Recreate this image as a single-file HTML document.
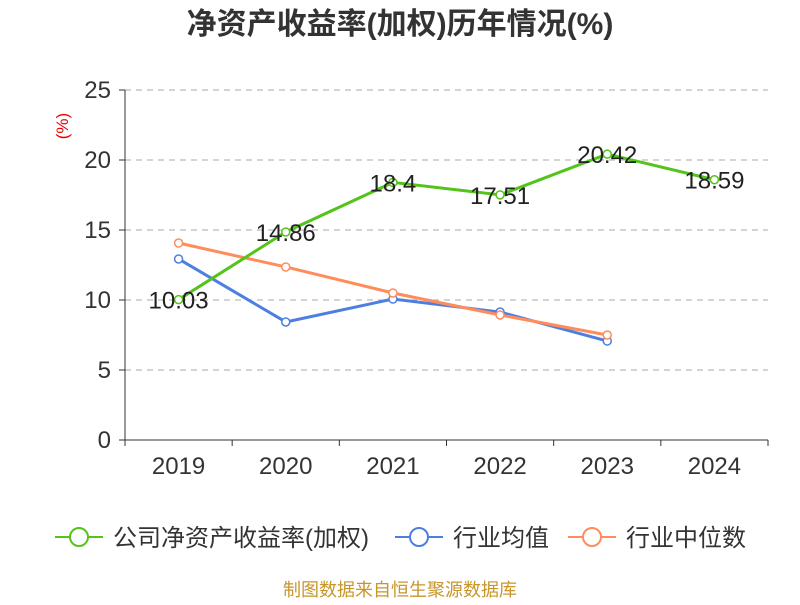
<!DOCTYPE html>
<html><head><meta charset="utf-8"><style>
body{margin:0;background:#fff;font-family:"Liberation Sans","Noto Sans CJK SC",sans-serif;}
</style></head><body>
<svg id="chart" width="800" height="600" xmlns="http://www.w3.org/2000/svg" style="font-family:'Liberation Sans','Noto Sans CJK SC',sans-serif">
<text x="400" y="34" text-anchor="middle" font-size="30" font-weight="bold" fill="#333">净资产收益率(加权)历年情况(%)</text>
<text x="68" y="126" font-size="17" fill="#e00" transform="rotate(-90 68 126)" text-anchor="middle">(%)</text>
<g id="grid"></g><g id="axes"></g><g id="series"></g>
<g>
<g><line x1="55" y1="537" x2="103" y2="537" stroke="#52c41a" stroke-width="2"/><circle cx="79" cy="537" r="9" fill="#fff" stroke="#52c41a" stroke-width="2"/><text x="113" y="546" font-size="24" fill="#333">公司净资产收益率(加权)</text></g>
<g><line x1="395" y1="537" x2="443" y2="537" stroke="#4e7fe0" stroke-width="2"/><circle cx="419" cy="537" r="9" fill="#fff" stroke="#4e7fe0" stroke-width="2"/><text x="453" y="546" font-size="24" fill="#333">行业均值</text></g>
<g><line x1="568" y1="537" x2="616" y2="537" stroke="#ff8c5a" stroke-width="2"/><circle cx="592" cy="537" r="9" fill="#fff" stroke="#ff8c5a" stroke-width="2"/><text x="626" y="546" font-size="24" fill="#333">行业中位数</text></g>
</g>
<text x="400" y="596" text-anchor="middle" font-size="18" fill="#c8952a">制图数据来自恒生聚源数据库</text>
</svg>
<script>
const categories=["2019","2020","2021","2022","2023","2024"];
const companyValues=[10.03,14.86,18.4,17.51,20.42,18.59];
const industryAvg=[12.93,8.43,10.07,9.14,7.07];
const industryMedian=[14.07,12.36,10.5,8.93,7.5];
const yTicks=[0,5,10,15,20,25];
const NS="http://www.w3.org/2000/svg";
const x0=125,x1=768,yb=440,yt=90;
const band=(x1-x0)/categories.length;
const xs=i=>x0+band*(i+0.5);
const ys=v=>yb-(v/25)*(yb-yt);
function mk(tag,attrs,parent,text){const e=document.createElementNS(NS,tag);for(const k in attrs)e.setAttribute(k,attrs[k]);if(text!=null)e.textContent=text;parent.appendChild(e);return e;}
const grid=document.getElementById('grid'),axes=document.getElementById('axes'),ser=document.getElementById('series');
yTicks.forEach(t=>{
 if(t>0){const g=mk('line',{x1:x0,x2:x1,y1:ys(t),y2:ys(t),stroke:'#aaa','stroke-dasharray':'6,5'},grid);
 
 }
 const tk=mk('line',{x1:x0-6,x2:x0,y1:ys(t),y2:ys(t),stroke:'#333'},axes);
 
 
 const l=mk('text',{x:x0-14,y:ys(t)+8,'text-anchor':'end','font-size':24,fill:'#333'},axes,t);
 
 
});
const ya=mk('line',{x1:x0,x2:x0,y1:yt,y2:yb,stroke:'#333'},axes);


const xa=mk('line',{x1:x0,x2:x1,y1:yb,y2:yb,stroke:'#333'},axes);


for(let i=0;i<=categories.length;i++){const t=mk('line',{x1:x0+band*i,x2:x0+band*i,y1:yb,y2:yb+6,stroke:'#333'},axes);
 
 }
categories.forEach((c,i)=>{const l=mk('text',{x:xs(i),y:yb+34,'text-anchor':'middle','font-size':24,fill:'#333'},axes,c);
 
 });
function series(vals,color,name,labels){
 const p=mk('polyline',{points:vals.map((v,i)=>xs(i)+','+ys(v)).join(' '),fill:'none',stroke:color,'stroke-width':3},ser);
 
 
 vals.forEach((v,i)=>{const c=mk('circle',{cx:xs(i),cy:ys(v),r:4,fill:'#fff',stroke:color,'stroke-width':1.5},ser);
  
  
  if(labels){const t=mk('text',{x:xs(i),y:ys(v)+9,'text-anchor':'middle','font-size':24,fill:'#222'},ser,v);
  
  }
 });
}
series(industryAvg,'#4e7fe0','industry-avg',false);
series(industryMedian,'#ff8c5a','industry-median',false);
series(companyValues,'#52c41a','company',true);
</script>
</body></html>
